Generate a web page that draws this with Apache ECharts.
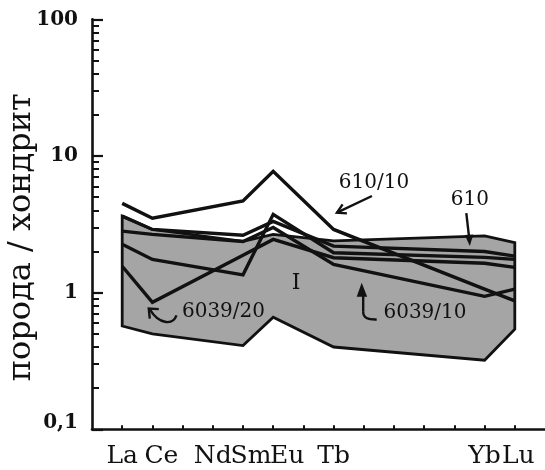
<!DOCTYPE html>
<html>
<head>
<meta charset="utf-8">
<script src="https://cdn.jsdelivr.net/npm/echarts@6/dist/echarts.min.js"></script>
<style>
  html, body { margin: 0; padding: 0; background: #fff; }
  #chart { width: 545px; height: 470px; }
</style>
</head>
<body>
<div id="chart"></div>
<script>
// Rare-earth elements along the x axis (Pm left out), in atomic-number order
const elements = ['La', 'Ce', 'Pr', 'Nd', 'Sm', 'Eu', 'Gd', 'Tb', 'Dy', 'Ho', 'Er', 'Tm', 'Yb', 'Lu'];
// Elements named under the axis
const labelledElements = ['La', 'Ce', 'Nd', 'Sm', 'Eu', 'Tb', 'Yb', 'Lu'];
// Elements analysed in every sample
const analysed = ['La', 'Ce', 'Sm', 'Eu', 'Tb', 'Yb', 'Lu'];

// Chondrite-normalised contents, one value per analysed element
const sample610_10  = [4.50, 3.50, 4.68, 7.72, 2.90, 1.06, 0.87];
const sample610     = [3.63, 2.90, 2.63, 3.32, 2.19, 2.00, 1.85];
const sample6039_10 = [2.82, 2.67, 2.37, 3.00, 1.61, 0.94, 1.06];
const sampleOther   = [2.26, 1.75, 1.35, 3.74, 1.96, 1.81, 1.75];
const sample6039_20 = [1.56, 0.85, 1.88, 2.45, 1.80, 1.64, 1.53];

// Field I: upper and lower limits
const fieldUpper = [3.63, 2.90, 2.37, 2.67, 2.39, 2.60, 2.32];
const fieldLower = [0.57, 0.50, 0.41, 0.66, 0.40, 0.32, 0.54];

// Logarithmic y axis
const yTicks = [0.1, 1, 10, 100];
const yTickText = ['0,1', '1', '10', '100'];

const INK = '#111';
const SERIF = 'DejaVu Serif';

const xOf = el => elements.indexOf(el);
const toPoints = vals => analysed.map((el, i) => [xOf(el), vals[i]]);

const samples = [
  { name: '610/10', values: sample610_10 },
  { name: '610', values: sample610 },
  { name: '6039/10', values: sample6039_10 },
  { name: '-', values: sampleOther },
  { name: '6039/20', values: sample6039_20 }
];

// minor ticks at 2..9 within each decade
const minorTicks = [];
yTicks.slice(0, -1).forEach(d => { for (let k = 2; k <= 9; k++) minorTicks.push(+(d * k).toPrecision(3)); });

const labelFont = { fontFamily: SERIF, fontSize: 25, color: INK };
// some symbols are nudged right so neighbouring names do not collide
const labelNudge = { Ce: 18, Sm: 16, Eu: 28, Lu: 7 };
const xRich = { t: Object.assign({}, labelFont) };
Object.keys(labelNudge).forEach(el => {
  xRich[el] = Object.assign({}, labelFont, { padding: [0, 0, 0, labelNudge[el]] });
});

const chart = echarts.init(document.getElementById('chart'), null, { renderer: 'canvas' });

chart.setOption({
  animation: false,
  backgroundColor: '#fff',
  grid: { left: 92, right: 0, top: 19.3, bottom: 40.7, outerBoundsMode: 'none' },
  xAxis: {
    type: 'value', min: -1, max: 14, interval: 1,
    axisLine: { show: true, onZero: false, lineStyle: { color: INK, width: 2.6 } },
    axisTick: { show: true, inside: true, length: 4, lineStyle: { color: INK, width: 2 },
                customValues: elements.map((_, i) => i) },
    axisLabel: {
      show: true, margin: 15,
      customValues: labelledElements.map(xOf),
      formatter: v => {
        const el = elements[Math.round(v)];
        return '{' + (labelNudge[el] ? el : 't') + '|' + el + '}';
      },
      rich: xRich
    },
    splitLine: { show: false }
  },
  yAxis: [
    {
      type: 'log', logBase: 10, min: 0.1, max: 100,
      axisLine: { show: true, onZero: false, lineStyle: { color: INK, width: 2.6 } },
      axisTick: { show: true, inside: true, length: 11, lineStyle: { color: INK, width: 2.2 },
                  customValues: yTicks },
      axisLabel: {
        show: true, margin: 14, customValues: yTicks,
        fontFamily: SERIF, fontWeight: 'bold', fontSize: 20, color: INK,
        formatter: v => {
          const i = yTicks.findIndex(t => Math.abs(Math.log10(t) - Math.log10(v)) < 1e-6);
          const s = i >= 0 ? yTickText[i] : '';
          return i === 0 ? '{low|' + s + '}' : s;
        },
        rich: { low: { fontFamily: SERIF, fontWeight: 'bold', fontSize: 20, color: INK, padding: [0, 0, 14, 0] } }
      },
      splitLine: { show: false },
      name: 'порода / хондрит',
      nameLocation: 'middle', nameRotate: 90, nameGap: 54, nameMoveOverlap: false,
      nameTextStyle: { fontFamily: SERIF, fontSize: 32, color: INK, padding: [0, 26, 0, 0] }
    },
    {
      type: 'log', logBase: 10, min: 0.1, max: 100, position: 'left',
      axisLine: { show: false, onZero: false },
      axisTick: { show: true, inside: true, length: 7, lineStyle: { color: INK, width: 2 },
                  customValues: minorTicks },
      axisLabel: { show: false },
      splitLine: { show: false }
    }
  ],
  series: [
    {
      type: 'custom', name: 'I', coordinateSystem: 'cartesian2d',
      data: analysed.map((el, i) => [xOf(el), fieldLower[i], fieldUpper[i]]),
      encode: { x: 0, y: [1, 2] },
      silent: true, z: 1, clip: false,
      renderItem: (params, api) => {
        if (params.dataIndex !== 0) return null;
        const upper = analysed.map((el, i) => api.coord([xOf(el), fieldUpper[i]]));
        const lower = analysed.map((el, i) => api.coord([xOf(el), fieldLower[i]])).reverse();
        return {
          type: 'polygon',
          shape: { points: upper.concat(lower) },
          style: { fill: '#a5a5a5', stroke: INK, lineWidth: 2.8, lineJoin: 'miter' }
        };
      }
    }
  ].concat(samples.map(s => ({
    type: 'line', name: s.name, data: toPoints(s.values),
    symbol: 'none', silent: true, z: 3,
    lineStyle: { color: INK, width: 3.4, join: 'miter' }
  })))
});

// Sample labels, arrows and the field name, anchored in data units
function annotate() {
  const P = (x, v) => chart.convertToPixel({ xAxisIndex: 0, yAxisIndex: 0 }, [x, v]);
  const off = (p, dx, dy) => [p[0] + dx, p[1] + dy];
  const font = '20px "' + SERIF + '"';
  const els = [];
  const text = (t, p, f) => els.push({ type: 'text', x: p[0], y: p[1], z: 100,
    style: { text: t, font: f || font, fill: INK, align: 'center', verticalAlign: 'middle' } });
  const line = (pts, w) => els.push({ type: 'polyline', z: 100, shape: { points: pts },
    style: { stroke: INK, lineWidth: w || 2.4, fill: null } });
  const head = pts => els.push({ type: 'polygon', z: 100, shape: { points: pts }, style: { fill: INK } });
  const curve = (p0, c1, c2, p1) => els.push({ type: 'bezierCurve', z: 100,
    shape: { x1: p0[0], y1: p0[1], cpx1: c1[0], cpy1: c1[1], cpx2: c2[0], cpy2: c2[1], x2: p1[0], y2: p1[1] },
    style: { stroke: INK, lineWidth: 2.4, fill: null } });

  // 610/10
  let t = P(7.11, 3.85);
  line([off(t, 35, -16.6), t]);
  line([off(t, 10, 0.8), t, off(t, 5.7, -8.2)]);
  text('610/10', off(t, 37, -30));

  // 610
  t = P(11.51, 2.19);
  line([off(t, -3.5, -33), off(t, -0.6, -8)]);
  head([t, off(t, -5, -11), off(t, 3.5, -11.5)]);
  text('610', off(t, 0, -46));

  // 6039/20
  t = P(0.88, 0.764);
  curve(off(t, 27.7, 6.7), off(t, 23.7, 17.7), off(t, 9.7, 14.7), off(t, 1.5, 1.5));
  line([off(t, 10, 0.5), t, off(t, 1, 10)]);
  text('6039/20', off(t, 74.7, 2.7));

  // 6039/10
  t = P(7.93, 1.18);
  head([t, off(t, -5, 14), off(t, 5.5, 14)]);
  line([off(t, 1.5, 12), off(t, 1.5, 29)]);
  curve(off(t, 1.5, 29), off(t, 1.5, 35), off(t, 6, 37), off(t, 15, 36.7));
  text('6039/10', off(t, 63.3, 29.7));

  // field I
  text('I', P(5.76, 1.17), '22px "' + SERIF + '"');

  chart.setOption({ graphic: { elements: els } });
}
annotate();
</script>
</body>
</html>
